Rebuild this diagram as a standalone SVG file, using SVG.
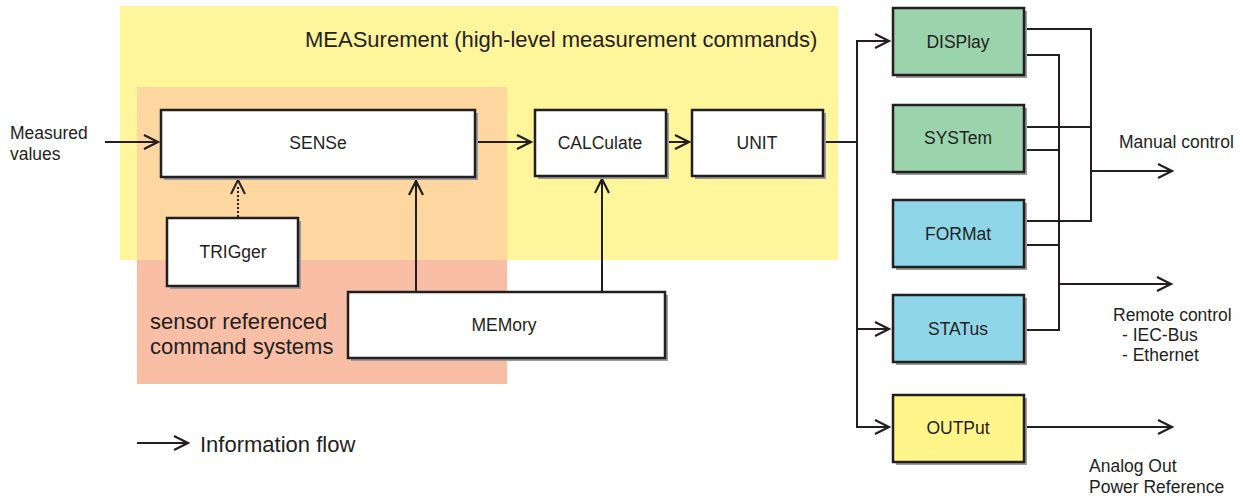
<svg xmlns="http://www.w3.org/2000/svg" width="1243" height="496" viewBox="0 0 1243 496">
  <style>
    text { font-family: "Liberation Sans", Arial, sans-serif; fill: #231f20; }
    .lbl { font-size: 17.5px; }
    .big { font-size: 22px; }
    .box { stroke: #231f20; stroke-width: 2.5; }
    .shadow { fill: #9a9a9a; }
    .ln { stroke: #231f20; stroke-width: 2; fill: none; }
    .arr { marker-end: url(#ah); }
  </style>
  <defs>
    <marker id="ah" viewBox="-15 -8 17 16" refX="0" refY="0" markerWidth="17" markerHeight="16" markerUnits="userSpaceOnUse" orient="auto" overflow="visible">
      <path d="M-14,-7 L0,0 L-14,7" fill="none" stroke="#231f20" stroke-width="2.2" stroke-linejoin="miter"/>
    </marker>
  </defs>

  <!-- background regions -->
  <rect x="120" y="6" width="718" height="254" fill="#fff59a"/>
  <rect x="137" y="87" width="370" height="173" fill="#fdd6a0"/>
  <rect x="137" y="260" width="370" height="124" fill="#f9bea6"/>
  <text class="big" x="305" y="47">MEASurement (high-level measurement commands)</text>
  <text class="big" x="150" y="329">sensor referenced</text>
  <text class="big" x="150" y="354">command systems</text>

  <!-- connectors -->
  <g id="connectors">
    <line class="ln arr" x1="105" y1="142" x2="158" y2="142"/>
    <line class="ln arr" x1="476" y1="142" x2="531" y2="142"/>
    <line class="ln arr" x1="667" y1="142" x2="689" y2="142"/>
    <line class="ln" x1="238" y1="217" x2="238" y2="186" stroke-dasharray="2,2"/>
    <path d="M231,194 L238,180 L245,194" fill="none" stroke="#231f20" stroke-width="2"/>
    <line class="ln arr" x1="416" y1="291" x2="416" y2="181"/>
    <line class="ln arr" x1="602" y1="291" x2="602" y2="179"/>
    <polyline class="ln" points="824,142 857,142"/>
    <line class="ln" x1="857" y1="41" x2="857" y2="427"/>
    <line class="ln arr" x1="856" y1="41" x2="889" y2="41"/>
    <line class="ln arr" x1="856" y1="329" x2="889" y2="329"/>
    <line class="ln arr" x1="856" y1="427" x2="889" y2="427"/>
    <!-- manual control collector -->
    <polyline class="ln" points="1025,29 1091,29 1091,221 1025,221"/>
    <line class="ln" x1="1025" y1="127" x2="1091" y2="127"/>
    <line class="ln arr" x1="1091" y1="171" x2="1172" y2="171"/>
    <!-- remote control collector -->
    <polyline class="ln" points="1025,55 1059,55 1059,330 1025,330"/>
    <line class="ln" x1="1025" y1="150" x2="1059" y2="150"/>
    <line class="ln" x1="1025" y1="245" x2="1059" y2="245"/>
    <line class="ln arr" x1="1059" y1="284" x2="1171" y2="284"/>
    <line class="ln arr" x1="1025" y1="427" x2="1172" y2="427"/>
    <!-- legend -->
    <line class="ln arr" x1="137" y1="443" x2="188" y2="443"/>
  </g>

  <!-- nodes -->
  <g id="sense">
    <rect class="shadow" x="164" y="113" width="314" height="67"/>
    <rect class="box" x="161" y="110" width="314" height="67" fill="#fff"/>
    <text class="lbl" x="318" y="149" text-anchor="middle">SENSe</text>
  </g>
  <g id="trigger">
    <rect class="shadow" x="170" y="221" width="131" height="68"/>
    <rect class="box" x="167" y="218" width="131" height="68" fill="#fff"/>
    <text class="lbl" x="233" y="258" text-anchor="middle">TRIGger</text>
  </g>
  <g id="memory">
    <rect class="shadow" x="351" y="295" width="317" height="66"/>
    <rect class="box" x="348" y="292" width="317" height="66" fill="#fff"/>
    <text class="lbl" x="504" y="331" text-anchor="middle">MEMory</text>
  </g>
  <g id="calculate">
    <rect class="shadow" x="538" y="113" width="131" height="66"/>
    <rect class="box" x="535" y="110" width="131" height="66" fill="#fff"/>
    <text class="lbl" x="600" y="149" text-anchor="middle">CALCulate</text>
  </g>
  <g id="unit">
    <rect class="shadow" x="695" y="113" width="131" height="66"/>
    <rect class="box" x="692" y="110" width="131" height="66" fill="#fff"/>
    <text class="lbl" x="757" y="149" text-anchor="middle">UNIT</text>
  </g>
  <g id="display">
    <rect class="shadow" x="896" y="11" width="131" height="67"/>
    <rect class="box" x="893" y="8" width="131" height="67" fill="#9ad3ac"/>
    <text class="lbl" x="958" y="48" text-anchor="middle">DISPlay</text>
  </g>
  <g id="system">
    <rect class="shadow" x="896" y="108" width="131" height="67"/>
    <rect class="box" x="893" y="105" width="131" height="67" fill="#9ad3ac"/>
    <text class="lbl" x="958" y="144" text-anchor="middle">SYSTem</text>
  </g>
  <g id="format">
    <rect class="shadow" x="896" y="203" width="131" height="67"/>
    <rect class="box" x="893" y="200" width="131" height="67" fill="#8fd6e8"/>
    <text class="lbl" x="958" y="240" text-anchor="middle">FORMat</text>
  </g>
  <g id="status">
    <rect class="shadow" x="896" y="298" width="131" height="67"/>
    <rect class="box" x="893" y="295" width="131" height="67" fill="#8fd6e8"/>
    <text class="lbl" x="958" y="335" text-anchor="middle">STATus</text>
  </g>
  <g id="output">
    <rect class="shadow" x="896" y="398" width="131" height="67"/>
    <rect class="box" x="893" y="395" width="131" height="67" fill="#fff58a"/>
    <text class="lbl" x="958" y="434" text-anchor="middle">OUTPut</text>
  </g>

  <!-- free labels -->
  <text class="lbl" x="10" y="139">Measured</text>
  <text class="lbl" x="10" y="160">values</text>
  <text class="lbl" x="1119" y="148">Manual control</text>
  <text class="lbl" x="1113" y="321">Remote control</text>
  <text class="lbl" x="1122" y="341">- IEC-Bus</text>
  <text class="lbl" x="1122" y="361">- Ethernet</text>
  <text class="lbl" x="1089" y="472">Analog Out</text>
  <text class="lbl" x="1089" y="493">Power Reference</text>
  <text class="big" x="200" y="452">Information flow</text>
</svg>
